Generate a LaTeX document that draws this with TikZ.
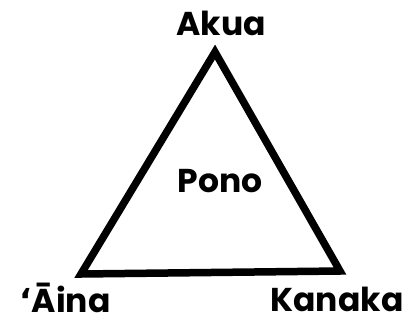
\documentclass[tikz,border=0pt]{standalone}
\usepackage{fontspec}
\setmainfont{Poppins}
\newfontfamily\okinafont{DejaVu Sans}
\usepackage{tikz}
\usetikzlibrary{positioning}

\tikzset{
  word/.style={font=\fontsize{33}{38}\selectfont\bfseries, anchor=base, inner sep=0pt},
  side/.style={line width=7.5pt, line join=miter, line cap=round}
}

\begin{document}
\begin{tikzpicture}[x=1pt, y=-1pt]
  \useasboundingbox (0,0) rectangle (407,325);

  % Define corners
  \coordinate (top) at (215,52);%
  \coordinate (left) at (81,274);%
  \coordinate (right) at (340,271);%

  % Define nodes
  \node[word] (akua) at (221,35) {Akua};%
  \node[word] (pono) at (220,192) {Pono};%
  \node[word] (aina) at (65,312) {{\okinafont ʻ}Āina};%
  \node[word] (kanaka) at (337,311) {Kanaka};%

  % Triangle
  \draw[side] (top) -- (left) -- (right) -- cycle;
\end{tikzpicture}
\end{document}
